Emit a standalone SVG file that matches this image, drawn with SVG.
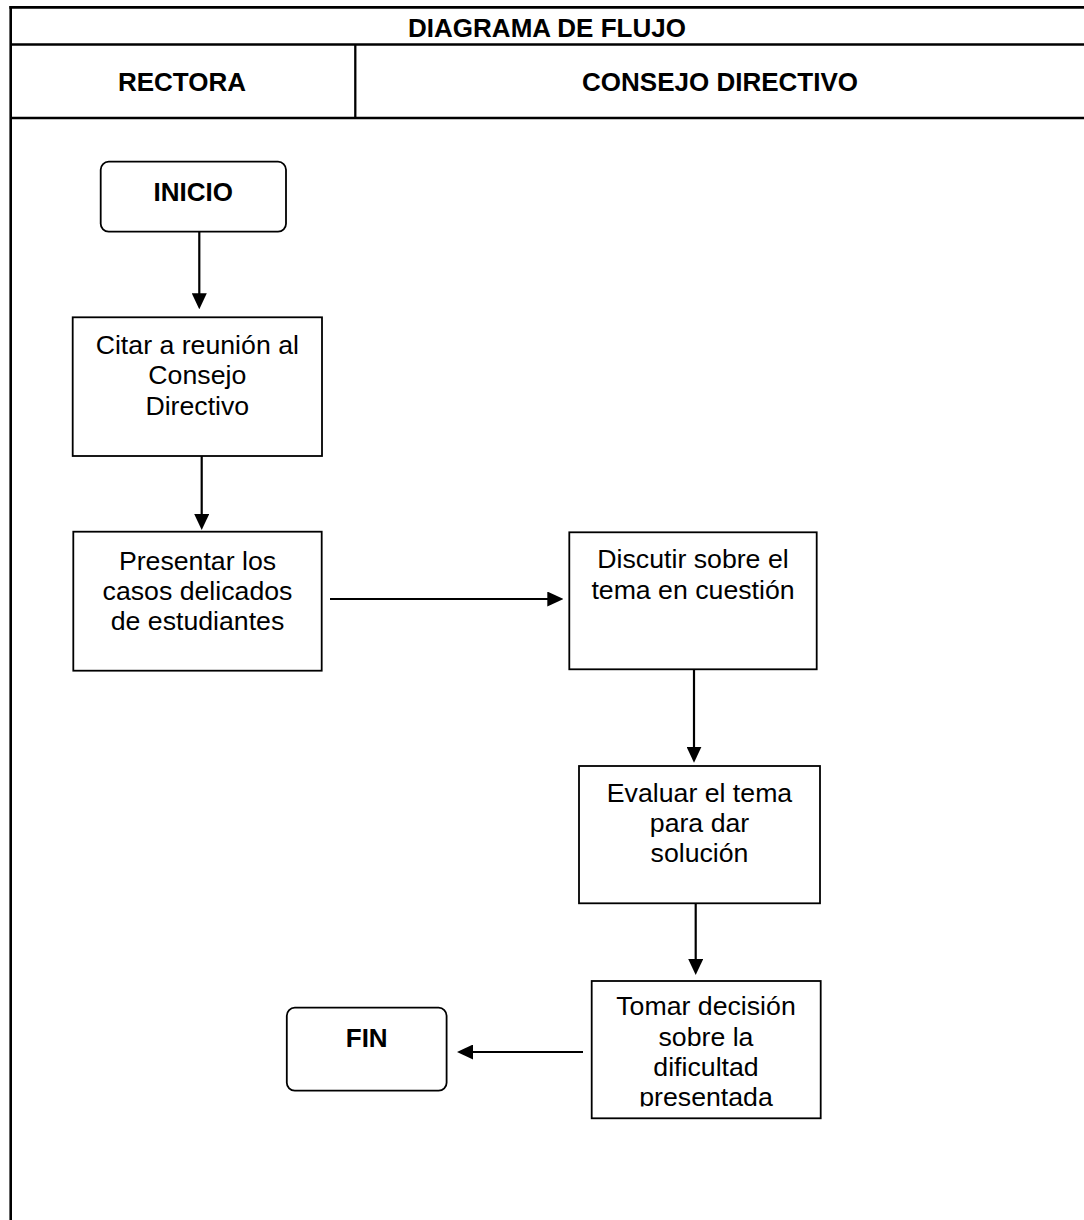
<svg xmlns="http://www.w3.org/2000/svg" width="1084" height="1220" viewBox="0 0 1084 1220">
  <style>
    .frame { stroke: #000; stroke-width: 2.6; fill: none; }
    .grid { stroke: #000; stroke-width: 2.3; fill: none; }
    .box { fill: #fff; stroke: #000; stroke-width: 1.8; }
    .head { font-family: "Liberation Sans", Arial, sans-serif; font-weight: bold; font-size: 26px; fill: #000; text-anchor: middle; }
    .txt { font-family: "Liberation Sans", Arial, sans-serif; font-size: 26.7px; fill: #000; text-anchor: middle; }
    .conn { stroke: #000; stroke-width: 2.2; fill: none; }
  </style>
  <defs>
    <marker id="arrow" markerUnits="userSpaceOnUse" markerWidth="16" markerHeight="15" viewBox="0 0 16 15" refX="6" refY="7.5" orient="auto">
      <path d="M0,0 L16,7.5 L0,15 Z" fill="#000"/>
    </marker>
    <!-- text area of the last process box; its fourth line overflows and is cut -->
    <clipPath id="clip-tomar">
      <rect x="592" y="981" width="229" height="125.5"/>
    </clipPath>
  </defs>

  <rect width="1084" height="1220" fill="#fff"/>

  <!-- table header and lane frame -->
  <g id="table">
    <line class="frame" x1="9.4" y1="7.4" x2="1084" y2="7.4"/>
    <line class="frame" x1="10.7" y1="6.1" x2="10.7" y2="1220"/>
    <line class="grid" x1="10.7" y1="44.5" x2="1084" y2="44.5"/>
    <line class="grid" x1="10.7" y1="118" x2="1084" y2="118"/>
    <line class="grid" x1="355.3" y1="44.5" x2="355.3" y2="118"/>
    <text class="head" x="547" y="36.5">DIAGRAMA DE FLUJO</text>
    <text class="head" x="182" y="90.7">RECTORA</text>
    <text class="head" x="720" y="90.7">CONSEJO DIRECTIVO</text>
  </g>

  <g id="inicio">
    <rect class="box" x="100.7" y="161.7" width="185.3" height="70" rx="8"/>
    <text class="head" x="193.3" y="200.7">INICIO</text>
  </g>

  <g id="citar">
    <rect class="box" x="72.7" y="317.3" width="249.3" height="138.7"/>
    <text class="txt" x="197.3" y="353.5">Citar a reunión al</text>
    <text class="txt" x="197.3" y="384">Consejo</text>
    <text class="txt" x="197.3" y="414.5">Directivo</text>
  </g>

  <g id="presentar">
    <rect class="box" x="73.3" y="531.7" width="248.4" height="139"/>
    <text class="txt" x="197.5" y="569.5">Presentar los</text>
    <text class="txt" x="197.5" y="599.5">casos delicados</text>
    <text class="txt" x="197.5" y="629.5">de estudiantes</text>
  </g>

  <g id="discutir">
    <rect class="box" x="569.3" y="532.3" width="247.4" height="137"/>
    <text class="txt" x="693" y="568">Discutir sobre el</text>
    <text class="txt" x="693" y="599">tema en cuestión</text>
  </g>

  <g id="evaluar">
    <rect class="box" x="579" y="766" width="241" height="137.3"/>
    <text class="txt" x="699.5" y="801.5">Evaluar el tema</text>
    <text class="txt" x="699.5" y="832">para dar</text>
    <text class="txt" x="699.5" y="862">solución</text>
  </g>

  <g id="tomar">
    <rect class="box" x="591.7" y="981" width="229" height="137.3"/>
    <g clip-path="url(#clip-tomar)">
      <text class="txt" x="706" y="1015">Tomar decisión</text>
      <text class="txt" x="706" y="1045.5">sobre la</text>
      <text class="txt" x="706" y="1076">dificultad</text>
      <text class="txt" x="706" y="1106">presentada</text>
    </g>
  </g>

  <g id="fin">
    <rect class="box" x="286.8" y="1007.7" width="159.8" height="83" rx="8"/>
    <text class="head" x="366.7" y="1046.7">FIN</text>
  </g>

  <!-- connectors -->
  <g id="connectors">
    <line class="conn" x1="199.3" y1="231.7" x2="199.3" y2="299.3" marker-end="url(#arrow)"/>
    <line class="conn" x1="201.7" y1="456" x2="201.7" y2="520" marker-end="url(#arrow)"/>
    <line class="conn" x1="330" y1="599" x2="553.3" y2="599" marker-end="url(#arrow)"/>
    <line class="conn" x1="694" y1="669.3" x2="694" y2="752.7" marker-end="url(#arrow)"/>
    <line class="conn" x1="695.7" y1="903.3" x2="695.7" y2="965" marker-end="url(#arrow)"/>
    <line class="conn" x1="583" y1="1052" x2="467" y2="1052" marker-end="url(#arrow)"/>
  </g>
</svg>
